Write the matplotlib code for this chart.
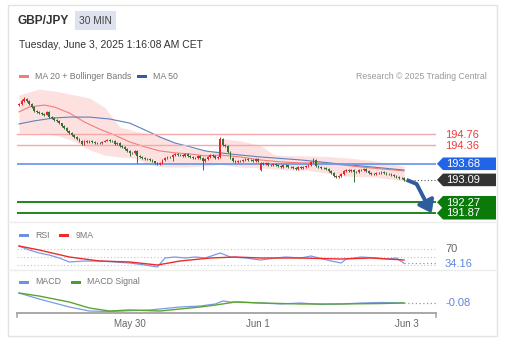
import numpy as np
import matplotlib
matplotlib.use('Agg')
import matplotlib.pyplot as plt
from matplotlib.patches import Rectangle, Polygon
import matplotlib.transforms as mtransforms

plt.rcParams['font.family'] = ['Liberation Sans', 'DejaVu Sans']

# ---------------- data ----------------
symbol = 'GBP/JPY'
timeframe = '30 MIN'
date_text = 'Tuesday, June 3, 2025 1:16:08 AM CET'

opens = [195.82,195.87,195.98,196.05,195.98,195.87,195.76,195.61,195.58,195.54,
         195.50,195.47,195.58,195.39,195.36,195.28,195.25,195.17,195.06,194.99,
         194.88,194.81,194.73,194.66,194.59,194.52,194.41,194.52,194.48,194.52,
         194.48,194.44,194.44,194.44,194.48,194.52,194.55,194.52,194.52,194.41,
         194.44,194.33,194.30,194.22,194.15,194.08,194.08,194.15,193.97,193.93,
         193.89,193.86,193.86,193.82,193.78,193.71,193.67,193.71,193.82,193.89,
         193.93,193.93,194.00,194.04,194.00,194.00,193.97,194.04,193.97,193.93,
         193.89,193.89,193.97,193.89,193.78,193.86,193.93,194.00,193.97,193.89,
         193.93,194.59,194.37,194.33,194.11,193.89,193.78,193.75,193.78,193.78,
         193.82,193.86,193.82,193.82,193.78,193.86,193.45,193.71,193.67,193.71,
         193.64,193.64,193.67,193.64,193.60,193.56,193.64,193.62,193.56,193.56,
         193.53,193.49,193.56,193.53,193.56,193.60,193.64,193.75,193.82,193.60,
         193.56,193.53,193.53,193.49,193.42,193.34,193.23,193.20,193.23,193.31,
         193.42,193.45,193.42,193.45,193.38,193.38,193.45,193.45,193.49,193.42,
         193.34,193.31,193.31,193.34,193.34,193.38,193.34,193.31,193.31,193.27,
         193.23,193.20,193.16,193.16]
highs = [195.92,196.05,196.13,196.09,196.01,195.90,195.79,195.65,195.62,195.57,
         195.53,195.62,195.60,195.42,195.38,195.31,195.27,195.19,195.09,195.01,
         194.91,194.84,194.76,194.69,194.62,194.55,194.56,194.55,194.55,194.54,
         194.50,194.47,194.48,194.51,194.55,194.58,194.57,194.55,194.54,194.47,
         194.46,194.36,194.32,194.25,194.17,194.12,194.18,194.17,194.00,193.96,
         193.92,193.89,193.88,193.85,193.80,193.74,193.75,193.85,193.92,193.96,
         193.97,194.04,194.08,194.07,194.04,194.03,194.07,194.06,194.00,193.95,
         193.93,194.00,193.99,193.92,193.89,193.96,194.03,194.03,193.99,193.96,
         194.66,194.62,194.41,194.36,194.14,193.92,193.81,193.82,193.82,193.85,
         193.89,193.88,193.86,193.85,193.89,193.88,193.74,193.74,193.74,193.73,
         193.68,193.71,193.70,193.67,193.63,193.67,193.67,193.65,193.60,193.59,
         193.56,193.59,193.59,193.60,193.63,193.67,193.78,193.89,193.84,193.63,
         193.59,193.57,193.56,193.52,193.45,193.37,193.26,193.26,193.34,193.45,
         193.49,193.48,193.49,193.48,193.42,193.48,193.49,193.52,193.52,193.45,
         193.38,193.35,193.38,193.37,193.41,193.41,193.37,193.35,193.34,193.30,
         193.27,193.23,193.20,193.19]
lows = [195.78,195.84,195.95,195.94,195.84,195.72,195.58,195.54,195.51,195.47,
        195.43,195.45,195.36,195.33,195.25,195.21,195.14,195.03,194.95,194.85,
        194.77,194.70,194.62,194.55,194.48,194.37,194.38,194.45,194.45,194.45,
        194.41,194.40,194.41,194.42,194.46,194.50,194.49,194.48,194.38,194.38,
        194.30,194.26,194.18,194.12,193.97,194.04,194.05,193.71,193.89,193.86,
        193.82,193.82,193.78,193.75,193.67,193.64,193.65,193.69,193.80,193.86,
        193.90,193.78,193.97,193.97,193.96,193.93,193.94,193.93,193.89,193.86,
        193.85,193.86,193.86,193.45,193.74,193.83,193.90,193.93,193.85,193.86,
        193.90,194.33,194.29,194.08,193.85,193.74,193.71,193.72,193.75,193.75,
        193.79,193.78,193.79,193.75,193.75,193.75,193.42,193.64,193.64,193.60,
        193.60,193.61,193.60,193.57,193.53,193.53,193.58,193.53,193.52,193.49,
        193.46,193.46,193.49,193.50,193.53,193.57,193.61,193.72,193.56,193.52,
        193.49,193.49,193.46,193.38,193.31,193.20,193.16,193.16,193.20,193.28,
        193.39,193.38,193.39,193.01,193.34,193.35,193.41,193.42,193.38,193.31,
        193.27,193.27,193.28,193.30,193.31,193.31,193.27,193.27,193.23,193.20,
        193.16,193.12,193.12,193.05]
closes = [195.87,195.98,196.05,195.98,195.87,195.76,195.61,195.58,195.54,195.50,
          195.47,195.58,195.39,195.36,195.28,195.25,195.17,195.06,194.99,194.88,
          194.81,194.73,194.66,194.59,194.52,194.41,194.52,194.48,194.52,194.48,
          194.44,194.44,194.44,194.48,194.52,194.55,194.52,194.52,194.41,194.44,
          194.33,194.30,194.22,194.15,194.08,194.08,194.15,193.97,193.93,193.89,
          193.86,193.86,193.82,193.78,193.71,193.67,193.71,193.82,193.89,193.93,
          193.93,194.00,194.04,194.00,194.00,193.97,194.04,193.97,193.93,193.89,
          193.89,193.97,193.89,193.78,193.86,193.93,194.00,193.97,193.89,193.93,
          194.59,194.37,194.33,194.11,193.89,193.78,193.75,193.78,193.78,193.82,
          193.86,193.82,193.82,193.78,193.86,193.78,193.71,193.67,193.71,193.64,
          193.64,193.67,193.64,193.60,193.56,193.64,193.62,193.56,193.56,193.53,
          193.49,193.56,193.53,193.56,193.60,193.64,193.75,193.82,193.60,193.56,
          193.53,193.53,193.49,193.42,193.34,193.23,193.20,193.23,193.31,193.42,
          193.45,193.42,193.45,193.38,193.38,193.45,193.45,193.49,193.42,193.34,
          193.31,193.31,193.34,193.34,193.38,193.34,193.31,193.31,193.27,193.23,
          193.20,193.16,193.16,193.09]

ma20_idx = [0,4,10,14,20,26,32,38,44,50,56,62,68,74,80,88,96,104,112,120,128,136,144,153]
ma20 = [195.58,195.76,195.83,195.76,195.54,195.21,194.95,194.73,194.48,194.30,194.15,194.08,
        194.04,193.97,194.00,193.93,193.82,193.75,193.71,193.71,193.64,193.56,193.49,193.42]
bb_idx = [0,8,16,22,28,34,40,46,52,58,66,74,80,81,88,96,101,106,114,122,130,140,146,153]
bb_upper = [196.20,196.42,196.31,196.20,196.09,195.75,195.03,194.88,194.78,194.62,194.30,194.17,
            194.15,194.60,194.52,194.35,194.02,193.98,193.97,193.95,193.90,193.80,193.71,193.60]
bb_lower = [194.81,194.81,194.70,194.50,194.19,194.00,193.93,193.89,193.64,193.56,193.56,193.60,
            193.66,193.64,193.56,193.53,193.50,193.45,193.45,193.34,193.23,193.20,193.14,193.05]
ma50_idx = [0,6,14,20,28,36,44,50,56,62,68,74,80,88,96,112,128,144,153]
ma50 = [195.14,195.25,195.36,195.39,195.39,195.32,195.17,194.92,194.66,194.44,194.30,194.15,
        194.08,194.00,193.93,193.82,193.67,193.53,193.45]

resistance_levels = [194.76, 194.36]
pivot_level = 193.68
last_price = 193.09
support_levels = [192.27, 191.87]
forecast_steps = [1, 5, 11]
forecast_prices = [193.09, 192.94, 191.87]

rsi_idx = [0,4,8,12,16,20,26,32,38,44,50,55,58,62,66,70,74,80,84,90,96,102,106,112,116,124,128,130,136,142,146,150,153]
rsi = [77.5,67.5,60,55,47.5,37.5,40,40,37.5,35,30,25,47.5,50,47.5,50,47.5,60,50,47.5,
       42.5,47.5,50,47.5,52.5,40,35,45,50,47.5,45,47.5,34.16]
rsi9_idx = [0,8,20,32,44,55,64,76,86,96,112,128,140,153]
rsi9 = [77.5,67.5,50,40,37.5,30,40,47.5,50,47.5,47.5,45,47.5,42.5]
rsi_levels = [70, 50, 30]

macd_idx = [0,8,20,28,36,52,56,64,72,78,81,84,88,96,104,112,120,128,136,144,153]
macd = [0.053,-0.027,-0.133,-0.187,-0.193,-0.173,-0.16,-0.133,-0.12,-0.093,-0.053,-0.067,
        -0.067,-0.08,-0.093,-0.08,-0.10,-0.093,-0.08,-0.073,-0.08]
signal_idx = [0,8,20,28,36,44,56,64,72,78,86,96,112,128,144,153]
signal = [0.053,0.013,-0.067,-0.147,-0.187,-0.173,-0.187,-0.16,-0.133,-0.107,-0.067,-0.08,
          -0.093,-0.093,-0.087,-0.08]

tick_positions = [44, 95, 154]
tick_labels = ['May 30', 'Jun 1', 'Jun 3']

# ---------------- layout ----------------
W, H = 514, 351
fig = plt.figure(figsize=(W / 100, H / 100), dpi=100)
fig.patch.set_facecolor('white')

def fx(x): return x / W
def fy(y): return 1 - y / H
def rect(x0, y0, x1, y1): return [x0 / W, 1 - y1 / H, (x1 - x0) / W, (y1 - y0) / H]

fig.add_artist(Rectangle((fx(8), fy(336)), (497 - 8) / W, (336 - 5) / H, transform=fig.transFigure,
                         facecolor='white', edgecolor='#e3e3e3', lw=1, zorder=0))
for yy in (222, 270):
    fig.add_artist(plt.Line2D([fx(8), fx(497)], [fy(yy), fy(yy)], transform=fig.transFigure,
                              color='#ededed', lw=1))

fig.text(fx(17), fy(20.5), symbol, fontsize=8.6, fontweight='bold', color='#333333', va='center', ha='left')
fig.add_artist(Rectangle((fx(75), fy(30)), 41 / W, 19 / H, transform=fig.transFigure,
                         facecolor='#dde2ee', edgecolor='none'))
fig.text(fx(95.5), fy(20.5), timeframe, fontsize=7.3, color='#444444', ha='center', va='center')
fig.text(fx(19), fy(45), date_text, fontsize=7.5, color='#333333', ha='left', va='center')

def legend_item(x, y, color, label, tx):
    fig.add_artist(Rectangle((fx(x), fy(y + 1.5)), 10 / W, 3 / H, transform=fig.transFigure,
                             facecolor=color, edgecolor='none'))
    fig.text(fx(tx), fy(y), label, fontsize=6.3, color='#777777', ha='left', va='center')

legend_item(19, 76.5, '#f47c7c', 'MA 20 + Bollinger Bands', 35)
legend_item(137, 76.5, '#2d5da8', 'MA 50', 153)
fig.text(fx(487), fy(76.5), 'Research \u00a9 2025 Trading Central', fontsize=6.3, color='#999999',
         ha='right', va='center')
legend_item(19, 235.5, '#6f8fe0', 'RSI', 35)
legend_item(59, 235.5, '#ee2a2a', '9MA', 76)
legend_item(19, 282, '#6f8fe0', 'MACD', 35)
legend_item(71, 282, '#4a9e2a', 'MACD Signal', 87)

XMIN, XMAX = -0.8, 165.7

def anchor_tr(ax, value):
    blend = mtransforms.blended_transform_factory(ax.transAxes, ax.transData)
    return mtransforms.Affine2D() + mtransforms.ScaledTranslation(1, value, blend)

def tag(ax, value, text, fc):
    tr = anchor_tr(ax, value)
    verts = [(1, 0), (7, 6.3), (60, 6.3), (60, -6.3), (7, -6.3)]
    ax.add_patch(Polygon(verts, closed=True, transform=tr, facecolor=fc, edgecolor='none',
                         clip_on=False, zorder=8))
    ax.text(10, -0.3, text, transform=tr, color='white', fontsize=8, ha='left', va='center',
            zorder=9, clip_on=False)

def side_label(ax, value, text, color):
    tr = anchor_tr(ax, value)
    ax.text(9, -0.3, text, transform=tr, color=color, fontsize=8, ha='left', va='center',
            clip_on=False, zorder=9)

# ---------------- main price panel ----------------
ax = fig.add_axes(rect(17, 86, 436, 218))
ax.axis('off')
idx = np.arange(len(closes))
o = np.array(opens); c = np.array(closes); h = np.array(highs); l = np.array(lows)

ax.fill_between(bb_idx, bb_lower, bb_upper, color='#fde1e1', lw=0, zorder=1)
ax.plot(ma20_idx, ma20, color='#f47c7c', lw=0.8, zorder=2)
ax.plot(ma50_idx, ma50, color='#5f80bd', lw=0.8, zorder=2)

for lv in resistance_levels:
    ax.axhline(lv, color='#f7a8a8', lw=1.0, zorder=3)
    side_label(ax, lv, f'{lv:.2f}', '#f03c3c')
ax.axhline(pivot_level, color='#6f9bea', lw=1.3, zorder=3)
for lv in support_levels:
    ax.axhline(lv, color='#0e7c0e', lw=1.3, zorder=3)

up = c > o
colors = np.where(up, '#e3262b', '#386f36')
ax.vlines(idx, l, h, colors=colors, lw=0.7, zorder=4)
body_bottom = np.minimum(o, c)
body_h = np.maximum(np.abs(c - o), 0.012)
ax.bar(idx, body_h, bottom=body_bottom, width=0.7, color=colors, lw=0, zorder=5)

last = idx[-1]
ax.plot([last, XMAX], [last_price, last_price], color='#555555', lw=0.8, ls=(0, (1, 2)), zorder=3)
fxp = last + np.array(forecast_steps)
ax.plot(fxp[:2], forecast_prices[:2], color='#2f5c9c', lw=2.8, solid_capstyle='butt', zorder=7)
ax.annotate('', xy=(fxp[2], forecast_prices[2]), xytext=(fxp[1], forecast_prices[1]),
            arrowprops=dict(arrowstyle='-|>,head_length=0.55,head_width=0.4', color='#2f5c9c',
                            lw=2.8, shrinkA=0, shrinkB=0, mutation_scale=13),
            annotation_clip=False, zorder=7)

tag(ax, pivot_level, f'{pivot_level:.2f}', '#2264e6')
tag(ax, last_price, f'{last_price:.2f}', '#333333')
tag(ax, support_levels[0], f'{support_levels[0]:.2f}', '#0a7a0a')
tag(ax, support_levels[1], f'{support_levels[1]:.2f}', '#0a7a0a')

ax.set_xlim(XMIN, XMAX)
ax.set_ylim(191.694, 196.529)

# ---------------- RSI panel ----------------
ax2 = fig.add_axes(rect(17, 240, 436, 269))
ax2.axis('off')
for lv in rsi_levels:
    ax2.axhline(lv, color='#c4c4c4', lw=0.8, ls=(0, (1, 2)), zorder=1)
ax2.plot(rsi9_idx, rsi9, color='#ee2a2a', lw=1.0, zorder=3)
ax2.plot(rsi_idx, rsi, color='#7d9ae6', lw=0.9, zorder=2)
ax2.plot([last, XMAX], [rsi[-1], rsi[-1]], color='#7d9ae6', lw=0.9, ls=(0, (1, 2)), zorder=2)
side_label(ax2, 70, '70', '#666666')
side_label(ax2, rsi[-1], f'{rsi[-1]:.2f}', '#5f86e0')
ax2.set_xlim(XMIN, XMAX)
ax2.set_ylim(20, 92.5)

# ---------------- MACD panel ----------------
ax3 = fig.add_axes(rect(17, 276, 436, 313))
for s in ('top', 'left', 'right'):
    ax3.spines[s].set_visible(False)
ax3.spines['bottom'].set_color('#a8a8a8')
ax3.spines['bottom'].set_linewidth(1.4)
ax3.plot(signal_idx, signal, color='#5aa532', lw=1.0, zorder=3)
ax3.plot(macd_idx, macd, color='#7d9ae6', lw=0.9, zorder=2)
ax3.plot([last, XMAX], [macd[-1], macd[-1]], color='#7d9ae6', lw=0.9, ls=(0, (1, 2)), zorder=2)
side_label(ax3, macd[-1], f'{macd[-1]:.2f}', '#5f86e0')
for xa in (0, 1):
    ax3.plot([xa, xa], [0, -0.1], transform=ax3.transAxes, color='#a8a8a8', lw=1.2, clip_on=False)
ax3.set_yticks([])
ax3.set_xticks(tick_positions)
ax3.set_xticklabels(tick_labels)
ax3.tick_params(axis='x', length=0, pad=4.5, labelsize=7, labelcolor='#666666')
ax3.set_facecolor('none')
ax3.set_xlim(XMIN, XMAX)
ax3.set_ylim(-0.2133, 0.28)

fig.savefig('out.png', dpi=100, facecolor='white')
